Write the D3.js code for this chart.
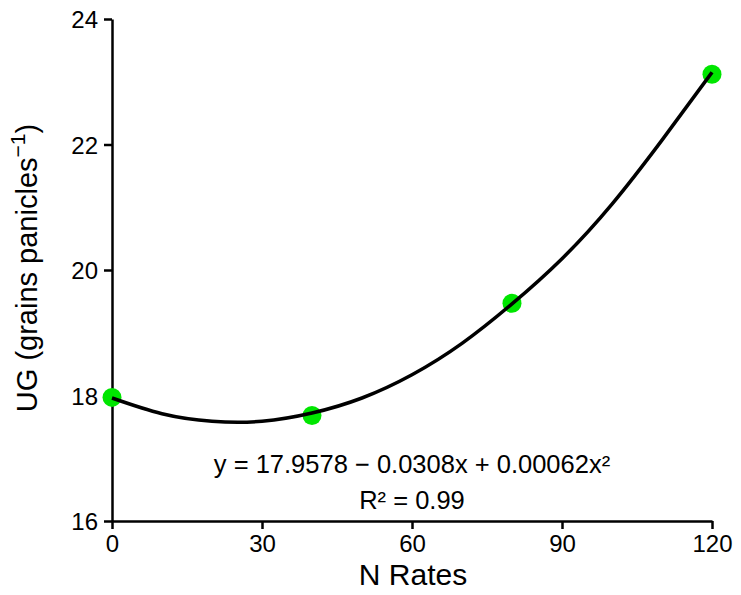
<!DOCTYPE html>
<html>
<head>
<meta charset="utf-8">
<script src="https://cdn.jsdelivr.net/npm/d3@7"></script>
<style>
  body { margin: 0; background: #fff; }
  text { font-family: "Liberation Sans", Arial, sans-serif; fill: #000; }
</style>
</head>
<body>
<div id="container"></div>
<script>
/* DATA */
const nRates = [0, 40, 80, 120]
const ugValues = [17.97, 17.68, 19.47, 23.12]

// fitted curve
const fitX = [0, 10, 20, 30, 40, 50, 60, 70, 80, 90, 100, 110, 120]
const fitY = [17.96, 17.71, 17.59, 17.59, 17.72, 17.96, 18.33, 18.83, 19.46, 20.18, 21.05, 22.07, 23.15]

const xTicks = [0, 30, 60, 90, 120]
const yTicks = [16, 18, 20, 22, 24]

const equationText = "y = 17.9578 \u2212 0.0308x + 0.00062x\u00B2"
const r2Text = "R\u00B2 = 0.99"

/* CONSTANTS */
const width = 741
const height = 595
const margin = { top: 19, bottom: 74, left: 112, right: 29 }

/* SCALES */
const xScale = d3.scaleLinear()
  .domain([0, 120])
  .range([margin.left, width - margin.right])

const yScale = d3.scaleLinear()
  .domain([16, 24])
  .range([height - margin.bottom, margin.top])

/* SVG */
const svg = d3.select("#container")
  .append("svg")
  .attr("width", width)
  .attr("height", height)

// axes
const xAxis = d3.axisBottom(xScale)
  .tickValues(xTicks)
  .tickSize(8)
  .tickSizeOuter(0)
  .tickPadding(6)
const xg = svg.append("g")
  .attr("transform", `translate(0,${height - margin.bottom})`)
  .call(xAxis)

const yAxis = d3.axisLeft(yScale)
  .tickValues(yTicks)
  .tickSize(8)
  .tickSizeOuter(0)
  .tickPadding(6)
const yg = svg.append("g")
  .attr("transform", `translate(${margin.left},0)`)
  .call(yAxis)

svg.selectAll(".domain, .tick line")
  .attr("stroke", "#000")
  .attr("stroke-width", 2.5)
svg.selectAll(".tick text")
  .style("font-size", "24px")
  .style("font-family", "Liberation Sans, Arial, sans-serif")
  .attr("fill", "#000")
yg.selectAll(".tick text").attr("dy", "0.36em")

// axis titles
svg.append("text")
  .attr("x", xScale(60) + 1)
  .attr("y", 585)
  .attr("text-anchor", "middle")
  .style("font-size", "30px")
  .text("N Rates")

const yTitle = svg.append("text")
  .attr("transform", `translate(37,${yScale(20) - 2}) rotate(-90)`)
  .attr("text-anchor", "middle")
  .style("font-size", "29px")
yTitle.append("tspan").text("UG (grains panicles")
yTitle.append("tspan").text("\u22121").style("font-size", "21px").attr("dy", "-0.55em")
yTitle.append("tspan").text(")").attr("dy", "0.4em")

// points
svg.selectAll("circle")
  .data(nRates)
  .join("circle")
  .attr("cx", d => xScale(d))
  .attr("cy", (d, i) => yScale(ugValues[i]))
  .attr("r", 9.5)
  .attr("fill", "#00e600")

// fitted curve
const line = d3.line()
  .x(d => xScale(d))
  .y((d, i) => yScale(fitY[i]))
  .curve(d3.curveNatural)

svg.append("path")
  .datum(fitX)
  .attr("d", line)
  .attr("fill", "none")
  .attr("stroke", "#000")
  .attr("stroke-width", 3.5)

// equation
svg.append("text")
  .attr("x", 412)
  .attr("y", 473)
  .attr("text-anchor", "middle")
  .style("font-size", "25.5px")
  .text(equationText)

svg.append("text")
  .attr("x", 412)
  .attr("y", 509)
  .attr("text-anchor", "middle")
  .style("font-size", "25.5px")
  .text(r2Text)
</script>
</body>
</html>
